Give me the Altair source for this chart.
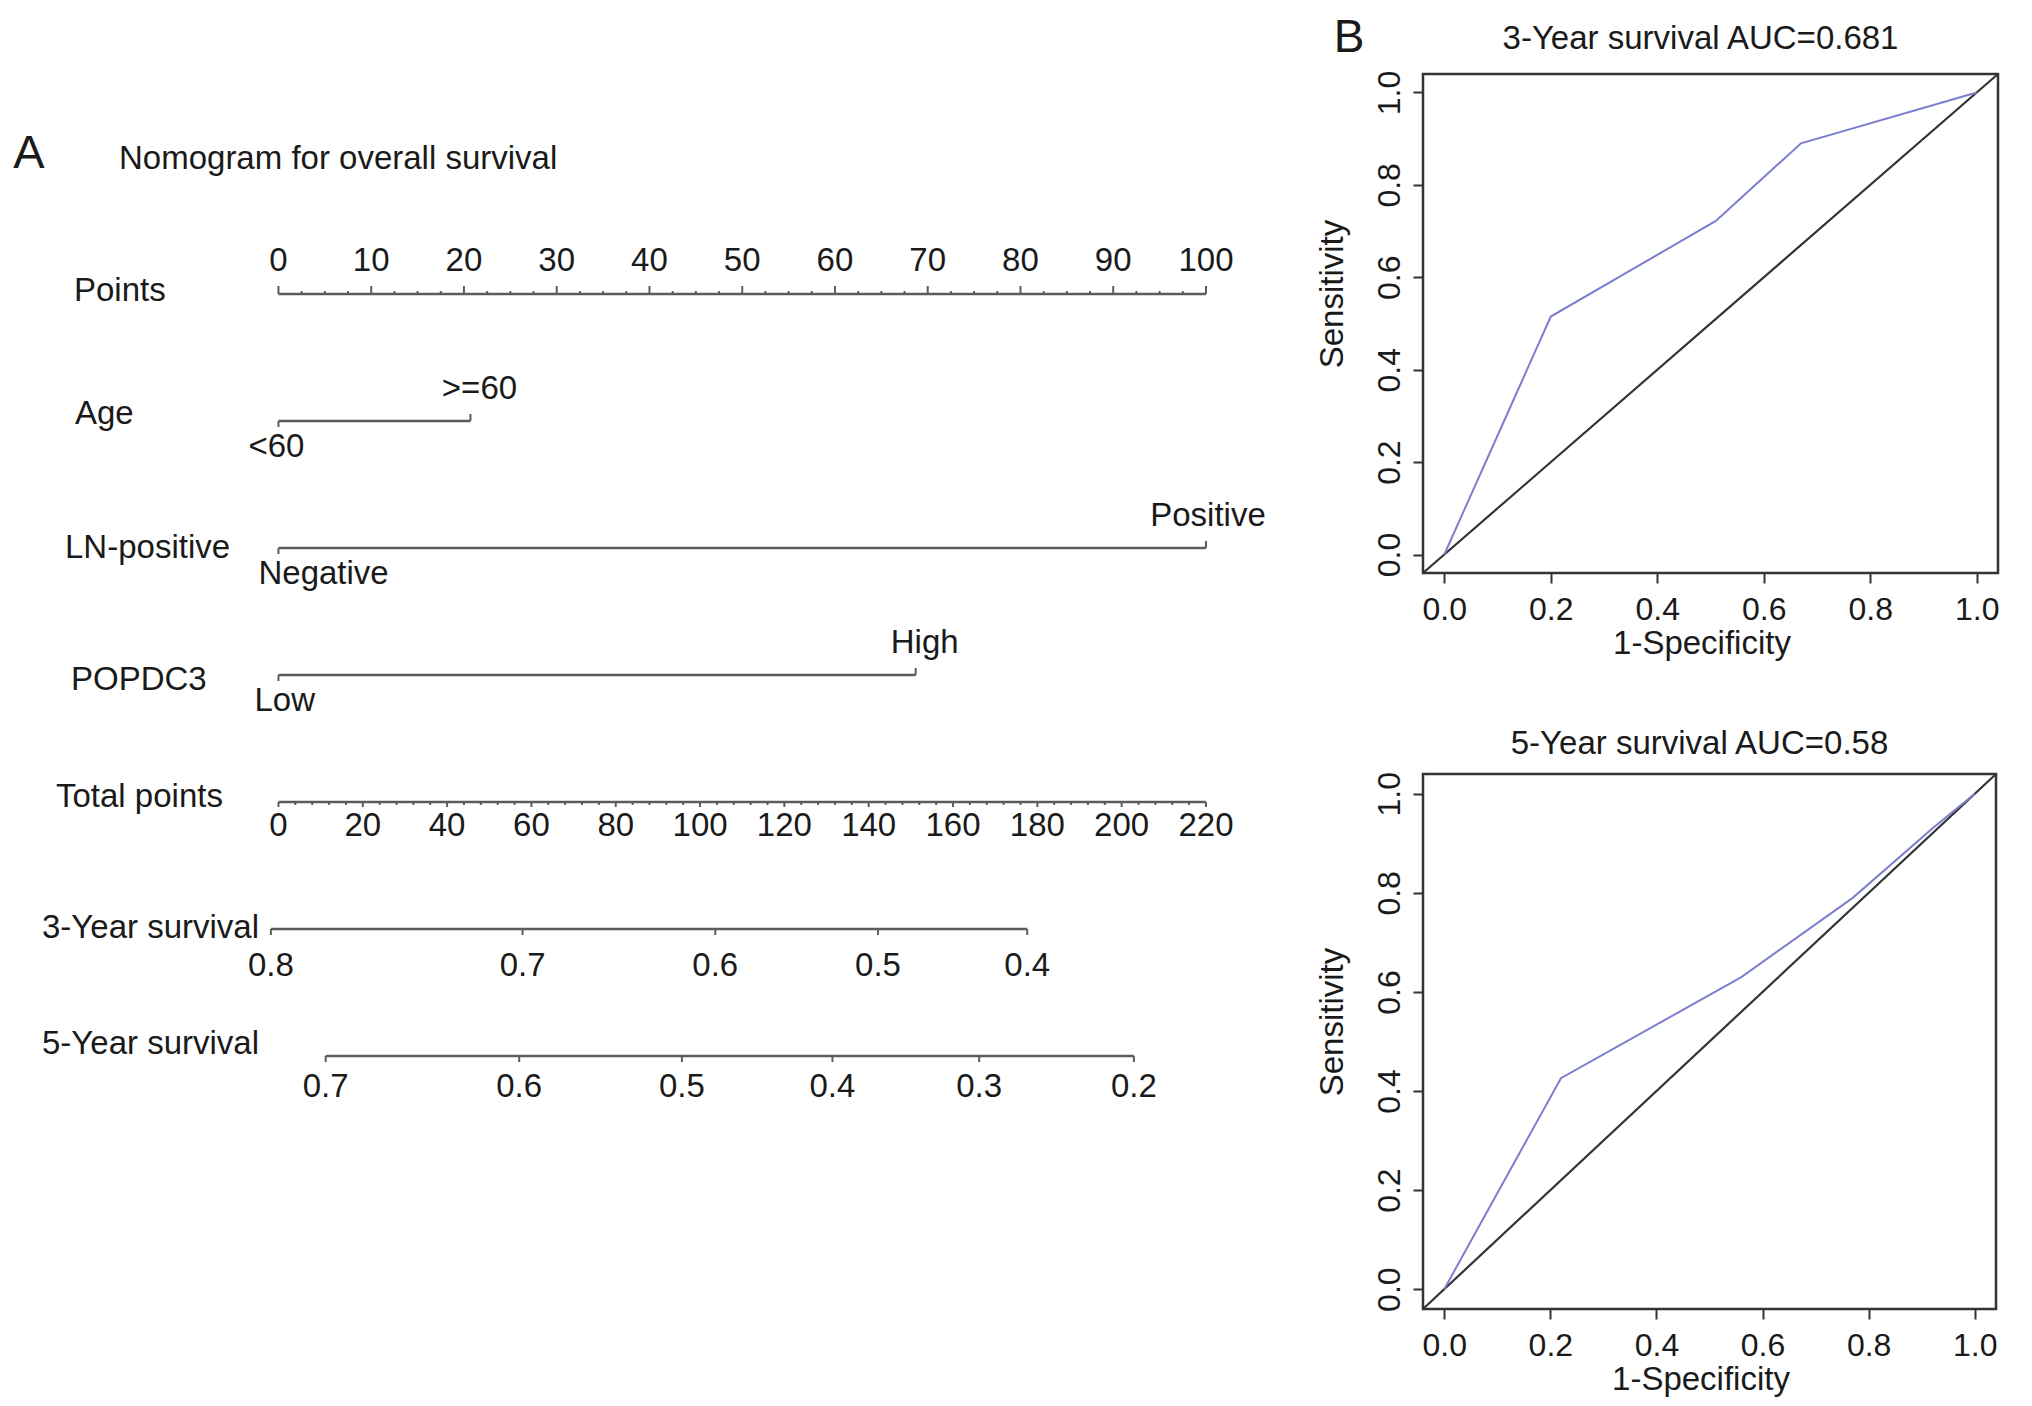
import altair as alt
import pandas as pd

# ---------------- data ----------------
row_names = ["Points", "Age", "LN-positive", "POPDC3", "Total points",
             "3-Year survival", "5-Year survival"]

points_major = list(range(0, 101, 10))
points_minor = [i * 2.5 for i in range(41)]
total_major = list(range(0, 221, 20))
total_minor = list(range(0, 221, 4))

age_levels = ["<60", ">=60"]
age_points = [0.0, 20.7]
ln_levels = ["Negative", "Positive"]
ln_points = [0.0, 100.0]
popdc3_levels = ["Low", "High"]
popdc3_points = [0.0, 68.7]

surv3_probs = ["0.8", "0.7", "0.6", "0.5", "0.4"]
surv3_total = [-1.8, 57.9, 103.6, 142.2, 177.6]
surv5_probs = ["0.7", "0.6", "0.5", "0.4", "0.3", "0.2"]
surv5_total = [11.2, 57.1, 95.7, 131.4, 166.2, 202.9]

roc3_fpr = [0.0, 0.20, 0.51, 0.67, 1.0]
roc3_tpr = [0.0, 0.515, 0.722, 0.89, 1.0]
roc5_fpr = [0.0, 0.22, 0.56, 0.77, 0.92, 1.0]
roc5_tpr = [0.0, 0.426, 0.63, 0.79, 0.93, 1.0]
roc_ticks = [0.0, 0.2, 0.4, 0.6, 0.8, 1.0]

# ---------------- layout / style ----------------
FONT = "Liberation Sans"
TXT = "#1a1a1a"
LINE = "#5c5c5c"
NF = 33
NOMO_W, NOMO_H = 1300, 1298
ROW_PX = 127.0
row_label_left = [66, 67, 57, 63, 48, 34, 34]
row_label_nudge = [-3, -7, 0, 5, -5, -1, -12]
low_label_dx = [-30, -20, -24]
high_label_dx = [9, 2, 9]


def tot2pts(t):
    return t * 100.0 / 220.0


xs = alt.Scale(domain=[-29.16, 111.0], nice=False, zero=False)
ys = alt.Scale(domain=[-2.228, 7.992], nice=False, zero=False, reverse=True)


def X(f):
    return alt.X(f, type="quantitative", scale=xs, axis=None)


def Y(f):
    return alt.Y(f, type="quantitative", scale=ys, axis=None)


def tick_layer(xvals, row, off):
    df = pd.DataFrame({"x": xvals, "row": [row] * len(xvals)})
    return alt.Chart(df).mark_rule(color=LINE, strokeWidth=2, y2Offset=off).encode(
        x=X("x"), y=Y("row"), y2=alt.Y2("row")
    )


def text_layer(xvals, row, labels, dy, dx=0, align="center", size=NF):
    df = pd.DataFrame({"x": xvals, "row": [row] * len(xvals), "lab": labels})
    return alt.Chart(df).mark_text(
        font=FONT, fontSize=size, color=TXT, align=align, baseline="middle", dy=dy, dx=dx
    ).encode(x=X("x"), y=Y("row"), text="lab:N")


layers = []

# axis / variable lines
s3p = [tot2pts(t) for t in surv3_total]
s5p = [tot2pts(t) for t in surv5_total]
seg = pd.DataFrame({
    "row": [0, 1, 2, 3, 4, 5, 6],
    "x0": [0, age_points[0], ln_points[0], popdc3_points[0], 0, min(s3p), min(s5p)],
    "x1": [100, age_points[1], ln_points[1], popdc3_points[1], tot2pts(220), max(s3p), max(s5p)],
})
layers.append(alt.Chart(seg).mark_rule(color=LINE, strokeWidth=2.5).encode(
    x=X("x0"), x2=alt.X2("x1"), y=Y("row")))

# Points axis (row 0)
layers.append(tick_layer(points_major, 0, -8))
layers.append(tick_layer([v for v in points_minor if v % 10 != 0], 0, -3))
layers.append(text_layer(points_major, 0, [str(v) for v in points_major], -33))

# categorical variables (rows 1-3)
cats = [(1, age_levels, age_points), (2, ln_levels, ln_points), (3, popdc3_levels, popdc3_points)]
for i, (row, levs, pts) in enumerate(cats):
    layers.append(tick_layer([pts[0]], row, 6))
    layers.append(tick_layer([pts[1]], row, -7))
    layers.append(text_layer([pts[0]], row, [levs[0]], 26, dx=low_label_dx[i], align="left"))
    layers.append(text_layer([pts[1]], row, [levs[1]], -32, dx=high_label_dx[i]))

# Total points (row 4)
tm = [tot2pts(v) for v in total_major]
layers.append(tick_layer(tm, 4, 5))
layers.append(tick_layer([tot2pts(v) for v in total_minor if v % 20 != 0], 4, 3))
layers.append(text_layer(tm, 4, [str(v) for v in total_major], 24))

# survival scales (rows 5, 6)
layers.append(tick_layer(s3p, 5, 6))
layers.append(text_layer(s3p, 5, surv3_probs, 37))
layers.append(tick_layer(s5p, 6, 6))
layers.append(text_layer(s5p, 6, surv5_probs, 31))

# row labels
rl = pd.DataFrame({
    "lab": row_names,
    "lx": row_label_left,
    "ry": [i + n / ROW_PX for i, n in enumerate(row_label_nudge)],
})
layers.append(alt.Chart(rl).mark_text(font=FONT, fontSize=NF, color=TXT, align="left",
                                      baseline="middle").encode(
    x=alt.X("lx:Q", scale=None), y=Y("ry"), text="lab:N"))

# panel letter and title
layers.append(alt.Chart(pd.DataFrame({"t": ["A"]})).mark_text(
    font=FONT, fontSize=47, color=TXT, align="center", baseline="middle").encode(
    text="t:N", x=alt.value(21), y=alt.value(143)))
layers.append(alt.Chart(pd.DataFrame({"t": ["Nomogram for overall survival"]})).mark_text(
    font=FONT, fontSize=NF, color=TXT, align="left", baseline="middle").encode(
    text="t:N", x=alt.value(111), y=alt.value(148)))

nomo = alt.layer(*layers).properties(
    width=NOMO_W, height=NOMO_H,
    view=alt.ViewBackground(stroke=None, fill="white"))


# ---------------- ROC panels ----------------
def roc_chart(fpr, tpr, title, w, h, title_y, ytitle_shift, letter=False):
    sc = alt.Scale(domain=[-0.04, 1.04], nice=False, zero=False)
    common = dict(values=roc_ticks, format=".1f", grid=False, domain=False, tickSize=10,
                  tickWidth=2, tickColor="#333", labelFontSize=32, labelFont=FONT,
                  labelColor=TXT, labelFlush=False, labelOverlap=False,
                  titleFontSize=33, titleFont=FONT, titleFontWeight="normal",
                  titleColor=TXT, titleBaseline="middle", titleAlign="center")
    xax = alt.Axis(title="1-Specificity", labelPadding=11, labelBaseline="top",
                   titleX=w / 2 - 9, titleY=70, **common)
    yax = alt.Axis(title="Sensitivity", labelAngle=270, labelAlign="center",
                   labelBaseline="middle", labelPadding=24, titleAngle=270,
                   titleX=-91, titleY=h / 2 + ytitle_shift, **common)
    xe = alt.X("fpr:Q", scale=sc, axis=xax)
    ye = alt.Y("tpr:Q", scale=sc, axis=yax)
    diag = pd.DataFrame({"fpr": [-0.04, 1.04], "tpr": [-0.04, 1.04]})
    curve = pd.DataFrame({"fpr": fpr, "tpr": tpr})
    lay = [
        alt.Chart(diag).mark_line(color="#333333", strokeWidth=2.2).encode(x=xe, y=ye),
        alt.Chart(curve).mark_line(color="#7b7fce", strokeWidth=2).encode(x=xe, y=ye),
        alt.Chart(pd.DataFrame({"t": [title]})).mark_text(
            font=FONT, fontSize=33, color=TXT, align="center", baseline="middle").encode(
            text="t:N", x=alt.value(w / 2 - 10), y=alt.value(title_y)),
    ]
    if letter:
        lay.append(alt.Chart(pd.DataFrame({"t": ["B"]})).mark_text(
            font=FONT, fontSize=46, color=TXT, align="center", baseline="middle").encode(
            text="t:N", x=alt.value(-74), y=alt.value(-36)))
    return alt.layer(*lay).properties(
        width=w, height=h,
        view=alt.ViewBackground(stroke="#333333", strokeWidth=2.5, fill="white"))


roc3 = roc_chart(roc3_fpr, roc3_tpr, "3-Year survival AUC=0.681", 575, 499, -35, -30, letter=True)
roc5 = roc_chart(roc5_fpr, roc5_tpr, "5-Year survival AUC=0.58", 573, 535, -30, -20)

spacer = alt.Chart(pd.DataFrame({"a": [0]})).mark_point(opacity=0).encode(
    x=alt.value(0), y=alt.value(0)).properties(
    width=575, height=1, view=alt.ViewBackground(stroke=None, fill="white"))

right_col = alt.vconcat(
    spacer,
    alt.vconcat(roc3, roc5, spacing=201, bounds="flush"),
    spacing=62, bounds="flush")

chart = alt.hconcat(nomo, right_col, spacing=115, bounds="flush").properties(
    padding=0, background="white"
).configure_view(stroke=None)

chart.save("out.html", embed_options={"renderer": "svg", "actions": False})
